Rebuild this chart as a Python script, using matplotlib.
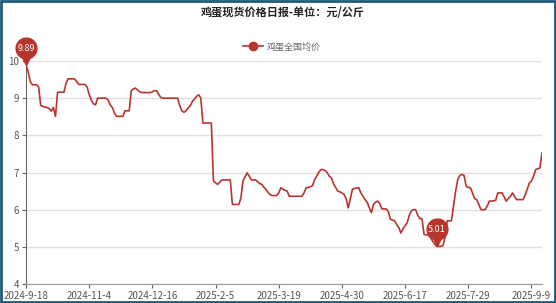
import matplotlib
matplotlib.use("Agg")
import matplotlib.pyplot as plt
import matplotlib.transforms as mtransforms
from matplotlib.lines import Line2D
from matplotlib.patches import Rectangle

plt.rcParams['font.family'] = ['Noto Sans CJK SC', 'DejaVu Sans']

# data, one value per trading day (yuan/kg)
title = "鸡蛋现货价格日报-单位：元/公斤"
series_name = "鸡蛋全国均价"
tick_labels = ["2024-9-18", "2024-11-4", "2024-12-16", "2025-2-5", "2025-3-19",
               "2025-4-30", "2025-6-17", "2025-7-29", "2025-9-9"]
prices = [
    9.89, 9.72, 9.45, 9.36, 9.36, 9.36, 9.30, 8.80, 8.78, 8.76,
    8.75, 8.72, 8.65, 8.75, 8.51, 9.16, 9.16, 9.16, 9.16, 9.40,
    9.52, 9.52, 9.52, 9.52, 9.45, 9.37, 9.37, 9.37, 9.37, 9.30,
    9.10, 8.95, 8.85, 8.82, 9.00, 9.00, 9.00, 9.00, 9.00, 8.95,
    8.82, 8.75, 8.60, 8.51, 8.51, 8.51, 8.51, 8.66, 8.66, 8.66,
    9.20, 9.25, 9.27, 9.22, 9.17, 9.15, 9.15, 9.15, 9.15, 9.15,
    9.17, 9.20, 9.20, 9.10, 9.02, 9.00, 9.00, 9.00, 9.00, 9.00,
    9.00, 9.00, 9.00, 8.80, 8.66, 8.62, 8.66, 8.74, 8.80, 8.91,
    8.98, 9.05, 9.09, 9.00, 8.33, 8.33, 8.33, 8.33, 8.33, 6.77,
    6.72, 6.68, 6.74, 6.80, 6.80, 6.80, 6.80, 6.80, 6.14, 6.14,
    6.14, 6.14, 6.30, 6.77, 6.88, 6.99, 6.90, 6.80, 6.80, 6.80,
    6.75, 6.70, 6.68, 6.60, 6.54, 6.46, 6.40, 6.38, 6.38, 6.38,
    6.45, 6.59, 6.55, 6.52, 6.50, 6.36, 6.36, 6.36, 6.36, 6.36,
    6.36, 6.36, 6.45, 6.59, 6.60, 6.62, 6.64, 6.80, 6.90, 7.00,
    7.08, 7.08, 7.05, 7.00, 6.90, 6.86, 6.70, 6.60, 6.50, 6.48,
    6.45, 6.41, 6.30, 6.05, 6.30, 6.55, 6.57, 6.58, 6.59, 6.45,
    6.36, 6.27, 6.20, 6.05, 5.92, 6.14, 6.20, 6.23, 6.16, 6.02,
    6.02, 6.02, 5.95, 5.74, 5.72, 5.70, 5.60, 5.52, 5.37, 5.48,
    5.57, 5.65, 5.85, 5.97, 6.00, 6.00, 5.85, 5.76, 5.76, 5.34,
    5.32, 5.32, 5.25, 5.16, 5.08, 5.01, 5.01, 5.01, 5.03, 5.27,
    5.70, 5.70, 5.70, 6.10, 6.50, 6.81, 6.92, 6.95, 6.92, 6.63,
    6.60, 6.59, 6.45, 6.30, 6.27, 6.14, 6.00, 6.00, 6.00, 6.10,
    6.23, 6.23, 6.24, 6.25, 6.45, 6.45, 6.45, 6.35, 6.23, 6.30,
    6.36, 6.45, 6.35, 6.27, 6.27, 6.27, 6.27, 6.40, 6.55, 6.72,
    6.77, 6.90, 7.08, 7.10, 7.12, 7.53,
]

red = '#b8352e'

fig = plt.figure(figsize=(5.56, 3.03), dpi=100)
ax = fig.add_axes([26 / 556, 1 - 284 / 303, (542 - 26) / 556, (284 - 61) / 303])

x = list(range(len(prices)))
ax.plot(x, prices, color=red, linewidth=1.2, solid_joinstyle='round', zorder=3)

ax.set_xlim(0, len(prices) - 1)
ax.set_ylim(4, 10)
ax.set_yticks([4, 5, 6, 7, 8, 9, 10])
ax.set_xticks(range(0, 30 * len(tick_labels), 30))
ax.set_xticklabels(tick_labels)
ax.tick_params(axis='both', labelsize=7, labelcolor='#555555', color='#666666',
               length=3, width=0.8, pad=2)
ax.grid(axis='y', color='#e0e0e0', linewidth=1)
ax.set_axisbelow(True)
for side in ['top', 'right']:
    ax.spines[side].set_visible(False)
ax.spines['left'].set_color('#666666')
ax.spines['bottom'].set_color('#999999')

# pins for max and min
imax = prices.index(max(prices))
imin = prices.index(min(prices))
for i in [imax, imin]:
    tri = mtransforms.offset_copy(ax.transData, fig=fig, x=0, y=6, units='dots')
    circ = mtransforms.offset_copy(ax.transData, fig=fig, x=0, y=17, units='dots')
    ax.plot(i, prices[i], marker='v', markersize=9, color=red, transform=tri,
            clip_on=False, zorder=5)
    ax.plot(i, prices[i], marker='o', markersize=15, color=red, transform=circ,
            clip_on=False, zorder=5)
    ax.text(i, prices[i], f"{prices[i]:.2f}", transform=circ, ha='center', va='center',
            color='white', fontsize=6.5, zorder=6, clip_on=False)

fig.text(0.509, 0.958, title, ha='center', va='center', fontsize=8, fontweight='bold',
         color='#222222')

handle = Line2D([], [], color=red, marker='o', markersize=6, linewidth=1.2)
fig.legend([handle], [series_name], loc='center', bbox_to_anchor=(0.507, 0.845),
           frameon=False, fontsize=6.5, labelcolor='#666666', handlelength=2.2,
           handletextpad=0.5)

fig.patches.append(Rectangle((0.002, 0.003), 0.996, 0.994, transform=fig.transFigure,
                             fill=False, edgecolor='#1d5a7a', linewidth=2))

fig.savefig("out.png", dpi=100)
